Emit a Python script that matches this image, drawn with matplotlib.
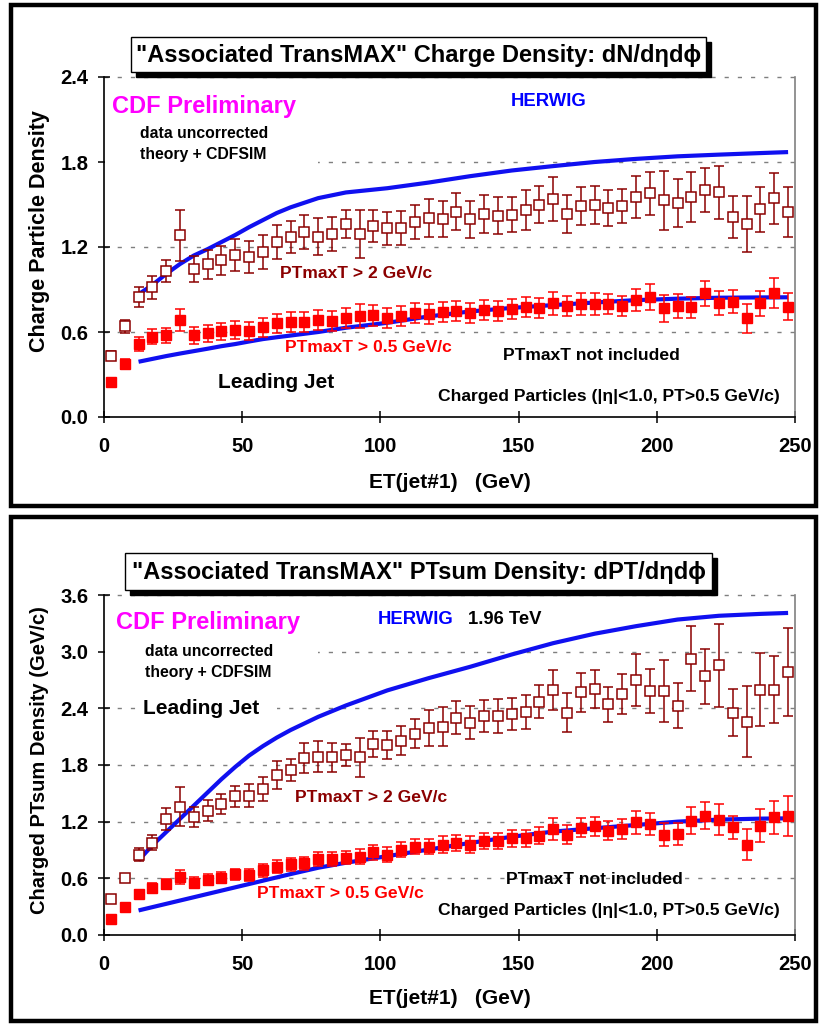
import matplotlib
matplotlib.use("Agg")
import matplotlib.pyplot as plt
from matplotlib.patches import Rectangle

plt.rcParams['font.family'] = ['Liberation Sans', 'DejaVu Sans']
plt.rcParams['font.weight'] = 'bold'

# bin centres of ET(jet#1) in GeV
et = [2.5, 7.5, 12.5, 17.5, 22.5, 27.5, 32.5, 37.5, 42.5, 47.5,
      52.5, 57.5, 62.5, 67.5, 72.5, 77.5, 82.5, 87.5, 92.5, 97.5,
      102.5, 107.5, 112.5, 117.5, 122.5, 127.5, 132.5, 137.5, 142.5, 147.5,
      152.5, 157.5, 162.5, 167.5, 172.5, 177.5, 182.5, 187.5, 192.5, 197.5,
      202.5, 207.5, 212.5, 217.5, 222.5, 227.5, 232.5, 237.5, 242.5, 247.5]

# ---- top panel: charge density ----
dn_pt2 = [0.433, 0.64, 0.849, 0.915, 1.03, 1.284, 1.044, 1.077, 1.105, 1.143,
          1.129, 1.164, 1.237, 1.270, 1.308, 1.273, 1.291, 1.364, 1.291, 1.348,
          1.332, 1.336, 1.374, 1.407, 1.40, 1.449, 1.397, 1.433, 1.421, 1.428,
          1.463, 1.498, 1.538, 1.435, 1.489, 1.498, 1.475, 1.489, 1.555, 1.579,
          1.529, 1.510, 1.553, 1.60, 1.586, 1.414, 1.360, 1.468, 1.543, 1.447]
dn_pt2_err = [0.03, 0.045, 0.07, 0.08, 0.08, 0.18, 0.09, 0.10, 0.10, 0.11,
              0.11, 0.12, 0.12, 0.11, 0.12, 0.13, 0.12, 0.10, 0.17, 0.115,
              0.115, 0.12, 0.12, 0.135, 0.126, 0.132, 0.13, 0.135, 0.13, 0.125,
              0.141, 0.13, 0.153, 0.133, 0.134, 0.135, 0.13, 0.12, 0.147, 0.153,
              0.208, 0.167, 0.179, 0.156, 0.187, 0.149, 0.198, 0.159, 0.181, 0.176]
dn_pt05 = [0.245, 0.376, 0.515, 0.567, 0.576, 0.685, 0.576, 0.59, 0.605, 0.614,
           0.607, 0.633, 0.661, 0.668, 0.668, 0.685, 0.68, 0.696, 0.713, 0.718,
           0.696, 0.713, 0.732, 0.727, 0.741, 0.75, 0.736, 0.755, 0.748, 0.76,
           0.774, 0.772, 0.802, 0.783, 0.797, 0.797, 0.795, 0.783, 0.826, 0.849,
           0.767, 0.783, 0.774, 0.873, 0.807, 0.814, 0.696, 0.802, 0.877, 0.778]
dn_pt05_err = [0.015, 0.035, 0.05, 0.055, 0.055, 0.076, 0.062, 0.059, 0.061, 0.066,
               0.065, 0.069, 0.068, 0.07, 0.07, 0.07, 0.07, 0.07, 0.085, 0.075,
               0.07, 0.07, 0.07, 0.07, 0.07, 0.07, 0.07, 0.07, 0.072, 0.07,
               0.07, 0.07, 0.08, 0.07, 0.075, 0.075, 0.07, 0.07, 0.08, 0.092,
               0.094, 0.085, 0.075, 0.09, 0.085, 0.08, 0.103, 0.09, 0.105, 0.096]

hw_et = [12.5, 17.5, 22.5, 27.5, 32.5, 37.5, 42.5, 47.5, 52.5, 57.5, 62.5, 67.5, 77.5, 87.5,
         102.5, 117.5, 132.5, 147.5, 162.5, 177.5, 192.5, 207.5, 222.5, 237.5, 247.5]
hw_dn_pt2 = [0.866, 0.932, 1.01, 1.08, 1.14, 1.185, 1.235, 1.285, 1.34, 1.39, 1.44, 1.48,
             1.545, 1.585, 1.615, 1.655, 1.70, 1.74, 1.771, 1.80, 1.822, 1.84, 1.852,
             1.863, 1.87]
hw_dn_pt05 = [0.39, 0.41, 0.43, 0.448, 0.465, 0.482, 0.50, 0.515, 0.533, 0.55, 0.563, 0.575,
              0.60, 0.63, 0.665, 0.71, 0.745, 0.77, 0.79, 0.808, 0.825, 0.835, 0.842,
              0.844, 0.845]

# ---- bottom panel: PTsum density ----
pt_pt2 = [0.384, 0.606, 0.852, 0.975, 1.229, 1.359, 1.253, 1.317, 1.387, 1.468,
          1.475, 1.546, 1.697, 1.746, 1.873, 1.89, 1.88, 1.908, 1.88, 2.021,
          2.01, 2.056, 2.133, 2.196, 2.207, 2.302, 2.249, 2.317, 2.32, 2.338,
          2.359, 2.468, 2.595, 2.355, 2.57, 2.605, 2.443, 2.555, 2.703, 2.584,
          2.584, 2.429, 2.925, 2.739, 2.855, 2.355, 2.26, 2.598, 2.598, 2.785]
pt_pt2_err = [0.03, 0.033, 0.069, 0.08, 0.114, 0.208, 0.106, 0.11, 0.11, 0.114,
              0.12, 0.13, 0.15, 0.12, 0.158, 0.167, 0.15, 0.118, 0.202, 0.141,
              0.15, 0.153, 0.15, 0.19, 0.206, 0.172, 0.176, 0.171, 0.176, 0.172,
              0.18, 0.174, 0.211, 0.206, 0.204, 0.204, 0.185, 0.211, 0.276, 0.234,
              0.326, 0.241, 0.343, 0.294, 0.443, 0.25, 0.378, 0.384, 0.356, 0.466]
pt_pt05 = [0.173, 0.292, 0.437, 0.5, 0.542, 0.613, 0.553, 0.585, 0.606, 0.641,
           0.638, 0.683, 0.725, 0.747, 0.761, 0.807, 0.807, 0.817, 0.831, 0.877,
           0.852, 0.901, 0.937, 0.937, 0.958, 0.975, 0.958, 1.0, 0.993, 1.024,
           1.024, 1.053, 1.123, 1.063, 1.134, 1.151, 1.106, 1.123, 1.193, 1.176,
           1.063, 1.071, 1.211, 1.264, 1.222, 1.14, 0.955, 1.158, 1.246, 1.257]
pt_pt05_err = [0.02, 0.025, 0.04, 0.05, 0.055, 0.077, 0.06, 0.06, 0.06, 0.06,
               0.065, 0.07, 0.07, 0.07, 0.07, 0.076, 0.075, 0.07, 0.08, 0.08,
               0.075, 0.08, 0.08, 0.08, 0.085, 0.083, 0.085, 0.085, 0.085, 0.09,
               0.09, 0.09, 0.113, 0.1, 0.1, 0.1, 0.1, 0.105, 0.12, 0.114,
               0.123, 0.12, 0.14, 0.146, 0.16, 0.123, 0.164, 0.176, 0.172, 0.211]

hw_pt_pt2 = [0.79, 0.95, 1.09, 1.23, 1.37, 1.51, 1.65, 1.78, 1.90, 2.00, 2.09, 2.17,
             2.31, 2.43, 2.59, 2.72, 2.84, 2.97, 3.09, 3.19, 3.27, 3.34, 3.38, 3.40, 3.41]
hw_pt_pt05 = [0.26, 0.295, 0.33, 0.365, 0.40, 0.435, 0.47, 0.505, 0.54, 0.575, 0.61, 0.645,
              0.712, 0.765, 0.835, 0.905, 0.975, 1.04, 1.095, 1.13, 1.165, 1.20, 1.222,
              1.232, 1.235]

W, H = 819, 1026
fig = plt.figure(figsize=(W / 100, H / 100), dpi=100)

def fx(x):
    return x / W

def fy(y):
    return 1 - y / H

def px_rect(x0, y0, x1, y1, **kw):
    r = Rectangle((fx(x0), fy(y1)), (x1 - x0) / W, (y1 - y0) / H,
                  transform=fig.transFigure, **kw)
    fig.add_artist(r)

def ptext(x, y, s, **kw):
    kw.setdefault('va', 'center')
    kw.setdefault('ha', 'left')
    fig.text(fx(x), fy(y), s, fontweight='bold', **kw)

def title_box(x0, y0, x1, y1, s):
    px_rect(x0 + 5, y0 + 5, x1 + 5, y1 + 5, facecolor='black', edgecolor='black', zorder=4)
    px_rect(x0, y0, x1, y1, facecolor='white', edgecolor='black', lw=1, zorder=5)
    fig.text(fx((x0 + x1) / 2), fy((y0 + y1) / 2 + 1), s, ha='center', va='center',
             fontsize=17, fontweight='bold', zorder=6)

def panel(top, ymax, ystep, open_y, open_e, fill_y, fill_e, hw_hi, hw_lo):
    ax = fig.add_axes([fx(104), fy(top + 340), 691 / W, 340 / H])
    ax.set_xlim(0, 250)
    ax.set_ylim(0, ymax)
    ticks = [i * ystep for i in range(7) if i * ystep <= ymax + 1e-9]
    ax.set_yticks(ticks)
    ax.set_yticklabels(['%.1f' % t for t in ticks])
    ax.set_xticks([0, 50, 100, 150, 200, 250])
    for t in ticks[1:]:
        ax.axhline(t, color='#7f7f7f', lw=1.0, dashes=(3, 6.5), zorder=0.5, clip_on=False)
    ax.spines['top'].set_visible(False)
    ax.spines['right'].set_color('#808080')
    for s in ['left', 'bottom', 'right']:
        ax.spines[s].set_linewidth(1.2)
    ax.tick_params(axis='both', direction='inout', length=8.5, width=1.1, labelsize=14.5)
    ax.tick_params(axis='y', pad=7)
    ax.tick_params(axis='x', pad=10)

    ax.plot(hw_et, hw_hi, color='#1010F0', lw=3.0, zorder=3, solid_capstyle='butt')
    ax.plot(hw_et, hw_lo, color='#1010F0', lw=3.0, zorder=3, solid_capstyle='butt')
    ax.errorbar(et, open_y, yerr=open_e, fmt='s', ms=6.5, mfc='white', mec='#8B0000',
                mew=1.1, ecolor='#8B0000', elinewidth=1.1, capsize=3.6, capthick=1.1,
                zorder=4)
    ax.errorbar(et, fill_y, yerr=fill_e, fmt='s', ms=6.5, mfc='#FF0000', mec='#FF0000',
                ecolor='#FF0000', elinewidth=1.1, capsize=3.6, capthick=1.1, zorder=5)
    return ax

# frames
px_rect(11, 5, 816, 506, fill=False, edgecolor='black', lw=3.2, zorder=2)
px_rect(11, 517, 816, 1021, fill=False, edgecolor='black', lw=3.2, zorder=2)

panel(77, 2.4, 0.6, dn_pt2, dn_pt2_err, dn_pt05, dn_pt05_err, hw_dn_pt2, hw_dn_pt05)
panel(595, 3.6, 0.6, pt_pt2, pt_pt2_err, pt_pt05, pt_pt05_err, hw_pt_pt2, hw_pt_pt05)

# white patches hiding gridlines behind text boxes
px_rect(105.5, 156, 318, 168, facecolor='white', edgecolor='none', zorder=1)
px_rect(105.5, 645, 318, 658, facecolor='white', edgecolor='none', zorder=1)
px_rect(140, 702, 277, 716, facecolor='white', edgecolor='none', zorder=1)

title_box(131, 37, 706, 72, '"Associated TransMAX" Charge Density: dN/dηdϕ')
title_box(125, 553, 712, 590, '"Associated TransMAX" PTsum Density: dPT/dηdϕ')

# axis labels
fig.text(fx(40), fy(231), 'Charge Particle Density', rotation=90, ha='center',
         va='center', fontsize=15.5, fontweight='bold')
fig.text(fx(40), fy(760), 'Charged PTsum Density (GeV/c)', rotation=90, ha='center',
         va='center', fontsize=14.5, fontweight='bold')
ptext(450, 482, 'ET(jet#1)   (GeV)', ha='center', fontsize=15)
ptext(450, 998, 'ET(jet#1)   (GeV)', ha='center', fontsize=15)

# top panel annotations
ptext(112, 107, 'CDF Preliminary', color='#FF00FF', fontsize=17)
ptext(140, 134, 'data uncorrected', fontsize=11.3)
ptext(140, 155, 'theory + CDFSIM', fontsize=11.3)
ptext(511, 102, 'HERWIG', color='#0000FF', fontsize=13.3)
ptext(280, 273, 'PTmaxT > 2 GeV/c', color='#8B0000', fontsize=12.6)
ptext(285, 347, 'PTmaxT > 0.5 GeV/c', color='#FF0000', fontsize=12.6)
ptext(503, 356, 'PTmaxT not included', fontsize=12.6)
ptext(218, 383, 'Leading Jet', fontsize=15)
ptext(438, 396, 'Charged Particles (|η|<1.0, PT>0.5 GeV/c)', fontsize=12.6)

# bottom panel annotations
ptext(116, 623, 'CDF Preliminary', color='#FF00FF', fontsize=17)
ptext(145, 651, 'data uncorrected', fontsize=11.3)
ptext(145, 672, 'theory + CDFSIM', fontsize=11.3)
ptext(378, 619, 'HERWIG', color='#0000FF', fontsize=13.3)
ptext(468, 619, '1.96 TeV', fontsize=13.3)
ptext(143, 709, 'Leading Jet', fontsize=15)
ptext(295, 797, 'PTmaxT > 2 GeV/c', color='#8B0000', fontsize=12.6)
ptext(257, 893, 'PTmaxT > 0.5 GeV/c', color='#FF0000', fontsize=12.6)
ptext(506, 879, 'PTmaxT not included', fontsize=12.6)
ptext(438, 911, 'Charged Particles (|η|<1.0, PT>0.5 GeV/c)', fontsize=12.6)

fig.savefig('out.png', dpi=100, facecolor='white')
